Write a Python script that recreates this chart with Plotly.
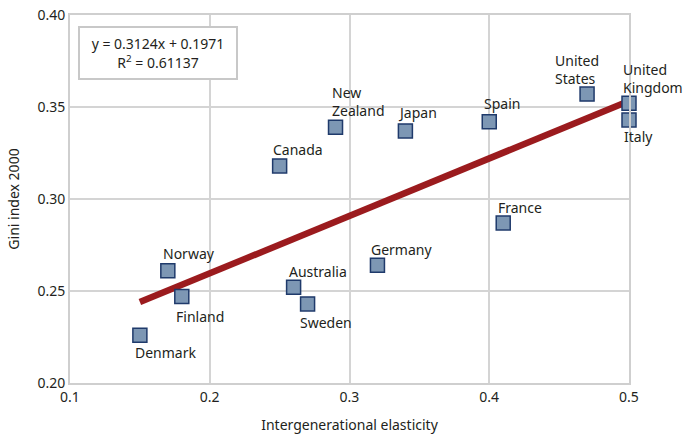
import plotly.graph_objects as go

countries = ["Denmark", "Norway", "Finland", "Australia", "Sweden", "Canada",
             "New<br>Zealand", "Japan", "Spain", "United<br>States",
             "United<br>Kingdom", "Italy", "France", "Germany"]
elasticity = [0.15, 0.17, 0.18, 0.26, 0.27, 0.25, 0.29, 0.34, 0.40, 0.47,
              0.50, 0.50, 0.41, 0.32]
gini = [0.226, 0.261, 0.247, 0.252, 0.243, 0.318, 0.339, 0.337, 0.342, 0.357,
        0.352, 0.343, 0.287, 0.264]

slope, intercept = 0.3124, 0.1971
r_squared = "0.61137"
fit_x = [0.15, 0.50]
fit_y = [slope * v + intercept for v in fit_x]

x_ticks = [0.1, 0.2, 0.3, 0.4, 0.5]
y_ticks = [0.20, 0.25, 0.30, 0.35, 0.40]

# label placement (pixel shifts relative to marker centre)
label_shift = {
    "Denmark": (-7, -17), "Norway": (-7, 17), "Finland": (-8, -20),
    "Australia": (-7, 16), "Sweden": (-10, -19), "Canada": (-9, 16),
    "New<br>Zealand": (-6, 26), "Japan": (-9, 18), "Spain": (-7, 18),
    "United<br>States": (-34, 25), "United<br>Kingdom": (-8, 25),
    "Italy": (-7, -17), "France": (-7, 15), "Germany": (-8, 16),
}

FONT = "Noto Sans"
TXT = "#231f20"
fig = go.Figure()
fig.add_trace(go.Scatter(
    x=fit_x, y=fit_y, mode="lines", cliponaxis=False,
    line=dict(color="#9b1b1e", width=6.5), hoverinfo="skip", showlegend=False))
fig.add_trace(go.Scatter(
    x=elasticity, y=gini, mode="markers", cliponaxis=False,
    marker=dict(symbol="square", size=14, color="#7d97b4",
                line=dict(color="#1f3a6b", width=1.5)),
    showlegend=False))

for name, xv, yv in zip(countries, elasticity, gini):
    dx, dy = label_shift[name]
    fig.add_annotation(x=xv, y=yv, text=name, showarrow=False,
                       xanchor="left", yanchor="middle", align="left",
                       xshift=dx, yshift=dy,
                       font=dict(family=FONT, size=14, color=TXT))

fig.add_annotation(x=0.1632, y=0.3793, xref="x", yref="y",
                   text=f"y = {slope}x + {intercept}<br>R<sup>2</sup> = {r_squared}",
                   showarrow=False, align="center",
                   width=156, height=50, borderpad=0,
                   bordercolor="#c8c8c8", borderwidth=2, bgcolor="white",
                   font=dict(family=FONT, size=14, color=TXT))

axis_common = dict(showgrid=True, gridcolor="#d4d4d4", gridwidth=2,
                   showline=True, linecolor="#cfcfcf", linewidth=2, mirror=True,
                   zeroline=False, ticks="", automargin=False,
                   tickfont=dict(family=FONT, size=14, color=TXT))

fig.update_xaxes(range=[0.1, 0.5], tickvals=x_ticks,
                 ticktext=[f"{v:.1f}" for v in x_ticks],
                 title=dict(text="Intergenerational elasticity",
                            font=dict(family=FONT, size=14, color=TXT)),
                 **axis_common)
fig.update_yaxes(range=[0.20, 0.40], tickvals=y_ticks,
                 ticktext=[f"{v:.2f}" for v in y_ticks],
                 title=dict(text="Gini index 2000",
                            font=dict(family=FONT, size=14, color=TXT)),
                 **axis_common)

fig.update_layout(width=686, height=436,
                  margin=dict(l=70, r=57, t=15, b=53),
                  plot_bgcolor="white", paper_bgcolor="white",
                  font=dict(family=FONT, size=14))

fig.write_html("out.html", config={"displayModeBar": False},
               post_script="document.body.style.margin='0';")
